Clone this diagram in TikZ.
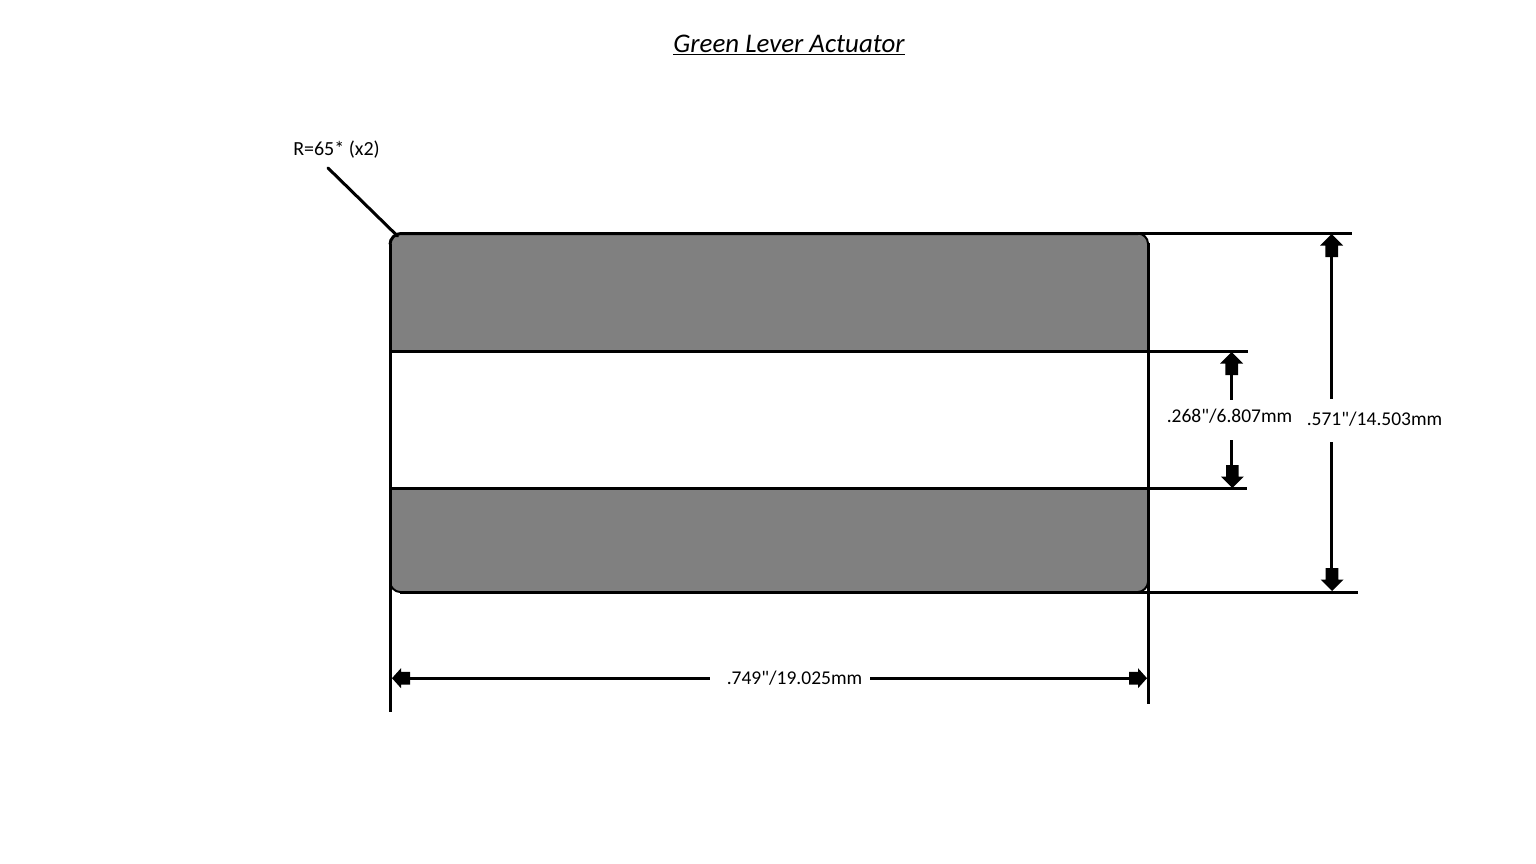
\documentclass[tikz,border=0pt]{standalone}
\usepackage{fontspec}
\newfontfamily\lblfont{Carlito}
\newcommand{\ulinetext}[1]{\setbox0=\hbox{#1}\rlap{\rule[-3.4pt]{\wd0}{1.5pt}}\box0}
\tikzset{
  x=1pt,y=-1pt,
  ln/.style={draw=black,line width=3pt},
  blockfill/.style={fill=black,draw=none},
  dimlabel/.style={inner sep=0pt,font=\lblfont\fontsize{19.5}{21}\selectfont,text=black},
  pics/blockarrow/.style={code={
    \path[blockfill] (0,0) -- (11.5,11.5) -- (6.3,11.5) -- (6.3,23) -- (-6.3,23) -- (-6.3,11.5) -- (-11.5,11.5) -- cycle;
  }},
  pics/shortarrow/.style={code={
    \path[blockfill] (0,0) -- (10,9) -- (6.3,9) -- (6.3,18) -- (-6.3,18) -- (-6.3,9) -- (-10,9) -- cycle;
  }}
}
\begin{document}
\begin{tikzpicture}
\useasboundingbox (0,0) rectangle (1536,864);
\fill[white] (0,0) rectangle (1536,864);

\node[inner sep=0pt,font=\lblfont\fontsize{26.9}{29}\selectfont\itshape] (title) at (789,45) {\ulinetext{Green Lever Actuator}};
\node[dimlabel,font=\lblfont\fontsize{20}{22}\selectfont] (rlabel) at (336.5,150) {R=65* (x2)};

% key points of the part
\coordinate (tl) at (390,233.5);
\coordinate (tr) at (1138,233.5);
\coordinate (bl) at (390,592);
\coordinate (br) at (1148,592);
\coordinate (ml1) at (390,351.5);
\coordinate (mr1) at (1148,351.5);
\coordinate (ml2) at (390,488.5);
\coordinate (mr2) at (1148,488.5);

% gray bands
\fill[fill=black!50] (ml1) -- (390,244.5) .. controls (390,238.5) and (395,233.5) .. (401,233.5) -- (1138,233.5) .. controls (1143,233.5) and (1148,238) .. (1148,243.5) -- (mr1) -- cycle;
\fill[fill=black!50] (ml2) -- (390,582) .. controls (390,587) and (395,592) .. (400,592) -- (1138,592) .. controls (1143,592) and (1148,587) .. (1148,582) -- (mr2) -- cycle;

% outline
\draw[ln] (390,244.5) .. controls (390,238.5) and (395,233.5) .. (401,233.5) -- (1138,233.5);
\draw[line width=2pt] (1138,233.5) .. controls (1143,233.5) and (1148,238) .. (1148,243.5);
\draw[line width=2pt] (390,582) .. controls (390,587) and (395,592) .. (400,592);
\draw[line width=2pt] (1138,592) .. controls (1143,592) and (1148,587) .. (1148,582);

% extension lines
\coordinate (topend) at (1352,233.5);
\coordinate (botend) at (1358,592);
\coordinate (m1end) at (1248,351.5);
\coordinate (m2end) at (1247,488.5);
\coordinate (lowl) at (390,711.5);
\coordinate (lowr) at (1148,703.5);
\draw[ln] (tr) -- (topend);
\draw[ln] (400,592) -- (botend);
\draw[ln] (ml1) -- (m1end);
\draw[ln] (ml2) -- (m2end);
\draw[ln] (390,244) -- (lowl);
\draw[ln] (1148,243) -- (lowr);

% leader
\coordinate (lead) at (328,168);
\coordinate (corner) at (397.5,236);
\draw[ln,line cap=round] (lead) -- (corner);

% arrowheads
\pic at (1331.7,234) {blockarrow};
\pic at (1231.7,352) {blockarrow};
\pic[rotate=180] at (1232.3,488) {blockarrow};
\pic[rotate=180] at (1332,591) {blockarrow};
\pic[rotate=90] at (392,678.2) {shortarrow};
\pic[rotate=-90] at (1147,678.2) {shortarrow};

% dimension labels
\node[dimlabel] (dimh) at (794.5,678) {.749"/19.025mm};
\node[dimlabel] (dimm) at (1229.5,416) {.268"/6.807mm};
\node[dimlabel] (dimo) at (1374.5,419) {.571"/14.503mm};

% dimension stems
\coordinate (s1a) at (1331.5,250);
\coordinate (s1b) at (1331.5,399);
\coordinate (s1c) at (1331.5,442);
\coordinate (s1d) at (1331.5,575);
\coordinate (s2a) at (1231.5,370);
\coordinate (s2b) at (1231.5,400);
\coordinate (s2c) at (1231.5,440);
\coordinate (s2d) at (1231.5,472);
\coordinate (s3a) at (405,678.2);
\coordinate (s3b) at (710,678.2);
\coordinate (s3c) at (870,678.2);
\coordinate (s3d) at (1132,678.2);
\draw[ln] (s1a) -- (s1b);
\draw[ln] (s1c) -- (s1d);
\draw[ln] (s2a) -- (s2b);
\draw[ln] (s2c) -- (s2d);
\draw[ln] (s3a) -- (s3b);
\draw[ln] (s3c) -- (s3d);
\end{tikzpicture}
\end{document}
